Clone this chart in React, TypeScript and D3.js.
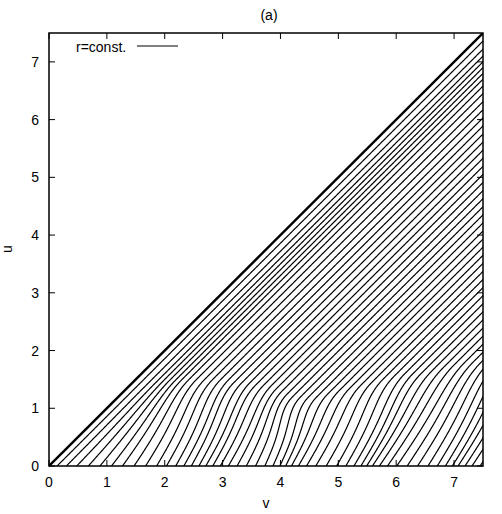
import React, { useRef, useEffect } from "react";
import * as d3 from "d3";

// offsets c of the r=const lines in the upper region (u = v - c)
const offsets = [
  0.14, 0.28, 0.4, 0.5, 0.6, 0.7, 0.8, 0.92, 1.05, 1.19,
  1.33, 1.47, 1.61, 1.75, 1.89, 2.03, 2.17, 2.31, 2.45, 2.59,
  2.73, 2.87, 3.01, 3.15, 3.29, 3.43, 3.57, 3.71, 3.85, 3.99,
  4.13, 4.27, 4.41, 4.55, 4.69, 4.83, 4.97, 5.11, 5.25, 5.39,
  5.53, 5.67, 5.81, 5.95, 6.09, 6.23, 6.37, 6.51, 6.65, 6.79,
  6.93, 7.07, 7.21, 7.35,
];
// how far each line is pushed right at u = 0 (lower region)
const shifts = [
  0.0, 0.02, 0.08, 0.18, 0.28, 0.38, 0.47, 0.55, 0.62, 0.67,
  0.7, 0.72, 0.72, 0.71, 0.7, 0.68, 0.66, 0.65, 0.65, 0.66,
  0.68, 0.7, 0.72, 0.72, 0.7, 0.66, 0.62, 0.6, 0.6, 0.62,
  0.66, 0.7, 0.72, 0.72, 0.7, 0.66, 0.62, 0.6, 0.6, 0.62,
  0.66, 0.7, 0.74, 0.76, 0.76, 0.74, 0.7, 0.68, 0.66, 0.66,
  0.66, 0.66, 0.66, 0.66,
];
// height of the bend for each line
const knees = [
  1.35, 1.4, 1.45, 1.5, 1.5, 1.5, 1.5, 1.5, 1.5, 1.5,
  1.5, 1.5, 1.5, 1.45, 1.45, 1.45, 1.4, 1.4, 1.4, 1.35,
  1.3, 1.25, 1.2, 1.2, 1.2, 1.2, 1.25, 1.3, 1.35, 1.4,
  1.45, 1.5, 1.55, 1.6, 1.6, 1.6, 1.65, 1.7, 1.75, 1.8,
  1.8, 1.8, 1.8, 1.8, 1.8, 1.8, 1.8, 1.8, 1.8, 1.8,
  1.8, 1.8, 1.8, 1.8,
];
const ticks = [0, 1, 2, 3, 4, 5, 6, 7];

// bend profile: 1 at the bottom, 0 at the knee, flat into the knee
const bend = (t) => 1 - (0.5 * t + t ** 3 / 3 - t ** 4 / 8 - t ** 6 / 6) / 0.54167;

const App = () => {
  const svgRef = useRef(null);

  useEffect(() => {
    const width = 502;
    const height = 514;
    const left = 49;
    const right = 483;
    const top = 33;
    const bottom = 466;
    const font = "'Liberation Sans', Arial, Helvetica, sans-serif";

    const svg = d3
      .select(svgRef.current)
      .attr("width", width)
      .attr("height", height)
      .style("display", "block")
      .style("background", "#fff");
    svg.selectAll("*").remove();

    const x = d3.scaleLinear().domain([0, 7.5]).range([left, right]);
    const y = d3.scaleLinear().domain([0, 7.5]).range([bottom, top]);

    svg
      .append("defs")
      .append("clipPath")
      .attr("id", "plot-clip")
      .append("rect")
      .attr("x", left)
      .attr("y", top)
      .attr("width", right - left)
      .attr("height", bottom - top);

    const plot = svg.append("g").attr("clip-path", "url(#plot-clip)");

    // r = const lines
    const line = d3
      .line()
      .x((d) => x(d[0]))
      .y((d) => y(d[1]));
    const samples = d3.range(0, 7.51, 0.02);
    offsets.forEach((c, i) => {
      const d = shifts[i];
      const k = knees[i];
      const pts = samples.map((u) => {
        let v = c + u;
        if (u < k) v += d * bend(u / k);
        return [v, u];
      });
      plot
        .append("path")
        .attr("d", line(pts))
        .attr("fill", "none")
        .attr("stroke", "#000")
        .attr("stroke-width", 1.2);
    });

    // thick diagonal u = v
    plot
      .append("path")
      .attr("d", line([[0, 0], [7.5, 7.5]]))
      .attr("stroke", "#000")
      .attr("stroke-width", 2.4);

    // frame
    svg
      .append("rect")
      .attr("x", left)
      .attr("y", top)
      .attr("width", right - left)
      .attr("height", bottom - top)
      .attr("fill", "none")
      .attr("stroke", "#000")
      .attr("stroke-width", 1.5);

    // ticks (inward on all sides)
    const tl = 6;
    const tg = svg.append("g").attr("stroke", "#000").attr("stroke-width", 1);
    ticks.forEach((t) => {
      tg.append("line").attr("x1", x(t)).attr("x2", x(t)).attr("y1", bottom).attr("y2", bottom - tl);
      tg.append("line").attr("x1", x(t)).attr("x2", x(t)).attr("y1", top).attr("y2", top + tl);
      tg.append("line").attr("x1", left).attr("x2", left + tl).attr("y1", y(t)).attr("y2", y(t));
      tg.append("line").attr("x1", right).attr("x2", right - tl).attr("y1", y(t)).attr("y2", y(t));
    });

    // tick labels
    svg
      .selectAll(".xl")
      .data(ticks)
      .join("text")
      .attr("x", (d) => x(d))
      .attr("y", 487)
      .attr("text-anchor", "middle")
      .attr("font-family", font)
      .attr("font-size", 14)
      .text((d) => d);
    svg
      .selectAll(".yl")
      .data(ticks)
      .join("text")
      .attr("x", 39)
      .attr("y", (d) => y(d) + 5)
      .attr("text-anchor", "end")
      .attr("font-family", font)
      .attr("font-size", 14)
      .text((d) => d);

    // axis labels and title
    svg
      .append("text")
      .attr("x", 266)
      .attr("y", 508)
      .attr("text-anchor", "middle")
      .attr("font-family", font)
      .attr("font-size", 14)
      .text("v");
    svg
      .append("text")
      .attr("transform", "translate(12, 249) rotate(-90)")
      .attr("text-anchor", "middle")
      .attr("font-family", font)
      .attr("font-size", 14)
      .text("u");
    svg
      .append("text")
      .attr("x", 269)
      .attr("y", 20)
      .attr("text-anchor", "middle")
      .attr("font-family", font)
      .attr("font-size", 14)
      .text("(a)");

    // legend
    svg
      .append("text")
      .attr("x", 76)
      .attr("y", 52)
      .attr("font-family", font)
      .attr("font-size", 14)
      .text("r=const.");
    svg
      .append("line")
      .attr("x1", 137)
      .attr("x2", 178)
      .attr("y1", 46)
      .attr("y2", 46)
      .attr("stroke", "#000")
      .attr("stroke-width", 1.2);
  }, []);

  return (
    <div style={{ position: "absolute", left: 0, top: 0 }}>
      <svg ref={svgRef}></svg>
    </div>
  );
};

export default App;
